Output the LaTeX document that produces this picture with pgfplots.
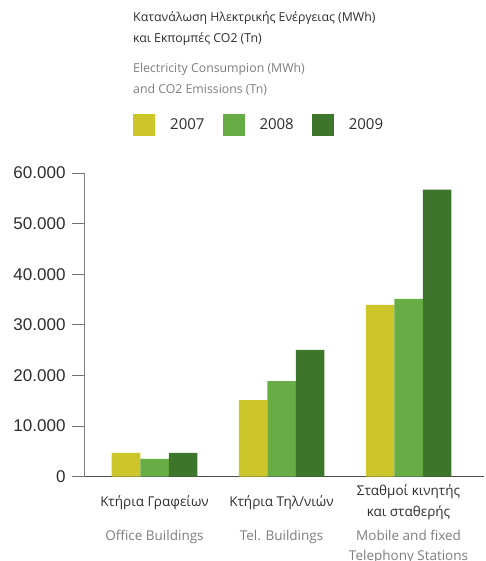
\documentclass[border=0pt]{standalone}
\usepackage{pgfplots}
\pgfplotsset{compat=1.18}
\usepackage{fontspec}
\setmainfont{Open Sans}
\newfontfamily\tickfont{Liberation Sans}

\definecolor{yrA}{RGB}{204,198,43}
\definecolor{yrB}{RGB}{103,172,68}
\definecolor{yrC}{RGB}{61,117,42}
\definecolor{txtdark}{RGB}{45,45,45}
\definecolor{txtgrey}{RGB}{125,125,125}

\begin{document}
\begin{tikzpicture}
\useasboundingbox (0,0) rectangle (485pt,561pt);

% titles, Greek first, English below
\tikzset{grk/.style={anchor=base west, inner sep=0pt, text=txtdark, font=\fontsize{12.3}{14}\selectfont},
         eng/.style={anchor=base west, inner sep=0pt, text=txtgrey, font=\fontsize{12.3}{14}\selectfont}}
\node[grk] at (133pt,539pt) {Κατανάλωση Ηλεκτρικής Ενέργειας (MWh)};
\node[grk] at (133pt,518pt) {και Εκπομπές CO2 (Tn)};
\node[eng] at (133pt,488pt) {Electricity Consumpion (MWh)};
\node[eng] at (133pt,467pt) {and CO2 Emissions (Tn)};

\begin{axis}[
  at={(84pt,84.3pt)}, anchor=south west,
  scale only axis, width=400pt, height=303.7pt,
  ybar=0pt, bar width=28.5pt,
  xmin=-0.555, xmax=2.594,
  ymin=0, ymax=60000,
  axis x line*=bottom, axis y line*=left,
  axis line style={-},
  x axis line style={draw=black!70, line width=0.9pt},
  y axis line style={draw=black!50, line width=0.9pt},
  xtick=\empty,
  ytick={0,10000,20000,30000,40000,50000,60000},
  scaled y ticks=false,
  ytick pos=left,
  tick align=outside,
  major tick length=12pt,
  tick style={draw=black!55, line width=0.9pt},
  yticklabel style={font=\tickfont\fontsize{17}{17}\selectfont, text=txtdark, xshift=-3pt},
  /pgf/number format/.cd, 1000 sep={.}, assume math mode=true, /pgfplots/.cd,
  clip=false,
  legend columns=3,
  legend entries={2007,2008,2009},
  legend image code/.code={\fill[#1,draw=none] (0pt,-11pt) rectangle (22pt,11pt);},
  legend style={at={(axis description cs:0.1225,1.158)}, anchor=west,
    draw=none, fill=none, inner sep=0pt,
    font=\fontsize{15}{15}\selectfont,
    nodes={inner sep=0pt, text=txtdark},
    /tikz/every odd column/.append style={column sep=15pt},
    /tikz/every even column/.append style={column sep=18pt}},
]
\addplot[fill=yrA, draw=none] coordinates {(0,4690) (1,15150) (2,33960)};
\addplot[fill=yrB, draw=none] coordinates {(0,3500) (1,18900) (2,35150)};
\addplot[fill=yrC, draw=none] coordinates {(0,4690) (1,25050) (2,56730)};

% category labels
\tikzset{cg/.style={anchor=center, align=center, inner sep=0pt, text=txtdark, font=\fontsize{13.5}{21}\selectfont},
         ce/.style={align=center, inner sep=0pt, text=txtgrey, font=\fontsize{13.5}{20}\selectfont}}
\node[cg] at (axis cs:0,0) [yshift=-25.5pt] {Κτήρια Γραφείων};
\node[cg] at (axis cs:1,0) [yshift=-25.5pt] {Κτήρια Τηλ/νιών};
\node[cg] at (axis cs:2,0) [yshift=-25.5pt] {Σταθμοί κινητής\\και σταθερής};
\node[ce, anchor=north] at (axis cs:0,0) [yshift=-53pt] {Office Buildings};
\node[ce, anchor=north] at (axis cs:1,0) [yshift=-53pt] {Tel. Buildings};
\node[ce, anchor=north] at (axis cs:2,0) [yshift=-53pt] {Mobile and fixed\\Telephony Stations};
\end{axis}
\end{tikzpicture}
\end{document}
